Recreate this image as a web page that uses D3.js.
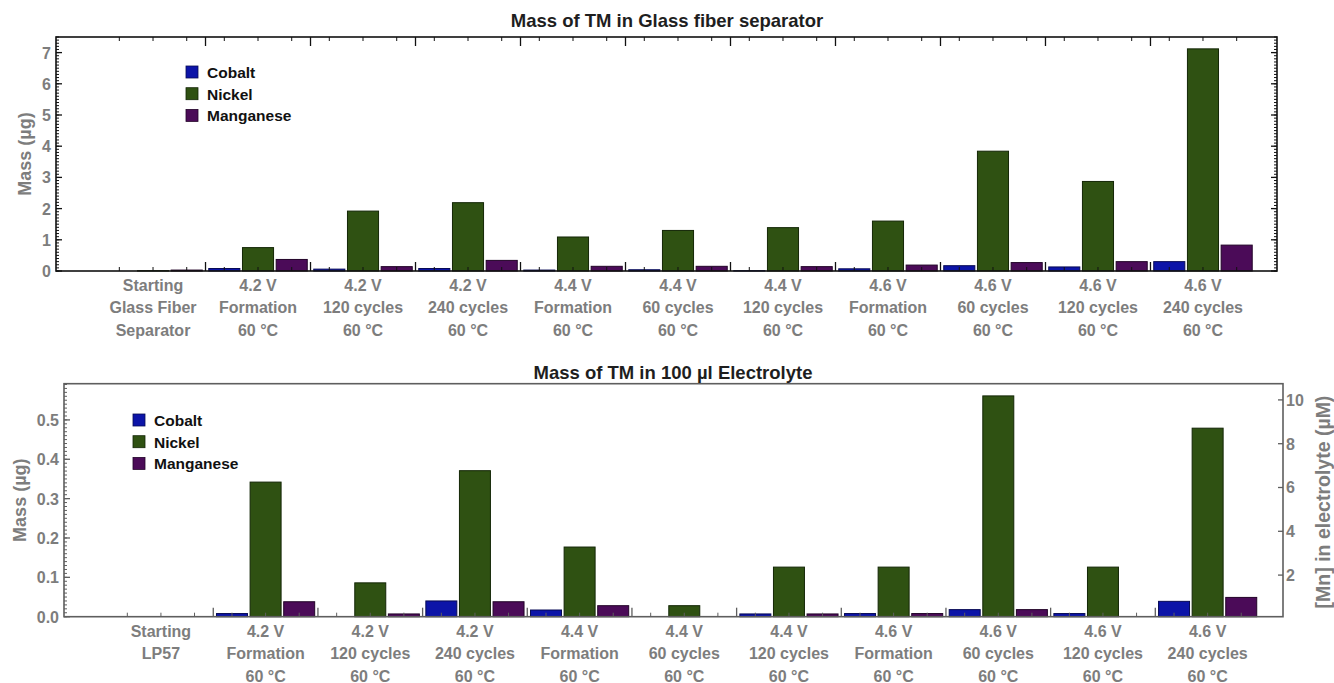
<!DOCTYPE html>
<html>
<head>
<meta charset="utf-8">
<script src="https://cdn.jsdelivr.net/npm/d3@7"></script>
<style>
  html, body { margin: 0; padding: 0; background: #fff; }
  svg { display: block; }
  text { font-family: "Liberation Sans", Arial, sans-serif; font-weight: bold; }
</style>
</head>
<body>
<svg id="chart" width="1334" height="683"></svg>
<script>
// Sample conditions (one group of three bars each)
const sepCategories = [
  ["Starting", "Glass Fiber", "Separator"],
  ["4.2 V", "Formation", "60 °C"],
  ["4.2 V", "120 cycles", "60 °C"],
  ["4.2 V", "240 cycles", "60 °C"],
  ["4.4 V", "Formation", "60 °C"],
  ["4.4 V", "60 cycles", "60 °C"],
  ["4.4 V", "120 cycles", "60 °C"],
  ["4.6 V", "Formation", "60 °C"],
  ["4.6 V", "60 cycles", "60 °C"],
  ["4.6 V", "120 cycles", "60 °C"],
  ["4.6 V", "240 cycles", "60 °C"]
];
const elyCategories = [
  ["Starting", "LP57"],
  ["4.2 V", "Formation", "60 °C"],
  ["4.2 V", "120 cycles", "60 °C"],
  ["4.2 V", "240 cycles", "60 °C"],
  ["4.4 V", "Formation", "60 °C"],
  ["4.4 V", "60 cycles", "60 °C"],
  ["4.4 V", "120 cycles", "60 °C"],
  ["4.6 V", "Formation", "60 °C"],
  ["4.6 V", "60 cycles", "60 °C"],
  ["4.6 V", "120 cycles", "60 °C"],
  ["4.6 V", "240 cycles", "60 °C"]
];

const seriesNames = ["Cobalt", "Nickel", "Manganese"];

// Mass of transition metals in the glass fiber separator (µg)
const sepCobalt    = [0.00, 0.08, 0.06, 0.08, 0.03, 0.04, 0.01, 0.07, 0.17, 0.13, 0.30];
const sepNickel    = [0.01, 0.75, 1.92, 2.19, 1.09, 1.30, 1.39, 1.60, 3.84, 2.87, 7.12];
const sepManganese = [0.03, 0.37, 0.14, 0.34, 0.15, 0.15, 0.14, 0.19, 0.27, 0.30, 0.83];

// Mass of transition metals in 100 µl electrolyte (µg)
const elyCobalt    = [0, 0.008, 0.000, 0.040, 0.017, 0.000, 0.007, 0.008, 0.018, 0.008, 0.039];
const elyNickel    = [0, 0.342, 0.086, 0.371, 0.177, 0.028, 0.126, 0.126, 0.561, 0.126, 0.479];
const elyManganese = [0, 0.038, 0.007, 0.038, 0.028, 0.000, 0.007, 0.008, 0.018, 0.000, 0.049];

// Axis tick labels
const sepTicks = [0, 1, 2, 3, 4, 5, 6, 7];
const elyTicks = [0, 0.1, 0.2, 0.3, 0.4, 0.5];
const mnTicks  = [2, 4, 6, 8, 10];

const fills   = ["#0c14a8", "#2f5112", "#4b0b58"];
const strokes = ["#070a55", "#132606", "#220428"];
const gray = "#7d7d7d";

const svg = d3.select("#chart");

function drawPanel(o) {
  const g = svg.append("g");
  const x = d3.scaleLinear().domain(o.xDomain).range([o.left, o.right]);
  const y = d3.scaleLinear().domain(o.yDomain).range([o.bottom, o.top]);
  const n = o.categories.length;
  const step = 0.321, barW = 0.296;
  const values = [o.cobalt, o.nickel, o.manganese];

  // bars
  values.forEach((vals, s) => {
    g.append("g").selectAll("rect").data(vals).join("rect")
      .attr("x", (d, i) => x(i + (s - 1) * step - barW / 2))
      .attr("width", x(barW) - x(0))
      .attr("y", d => y(d))
      .attr("height", d => y(0) - y(d))
      .attr("fill", fills[s])
      .attr("stroke", strokes[s])
      .attr("stroke-width", 1);
  });

  // bar-centre and group-boundary ticks on the horizontal edges
  const barCenters = [];
  for (let i = 0; i < n; i++) for (let s = -1; s <= 1; s++) barCenters.push(i + s * step);
  const bounds = d3.range(0, n - 1).map(i => i + 0.5);
  const edges = o.topTicks ? [[o.bottom, -1], [o.top, 1]] : [[o.bottom, -1]];
  edges.forEach(([yy, dir]) => {
    g.append("g").selectAll("line").data(barCenters).join("line")
      .attr("x1", d => x(d)).attr("x2", d => x(d))
      .attr("y1", yy).attr("y2", yy + dir * 4)
      .attr("stroke", o.frame).attr("stroke-width", 1);
    g.append("g").selectAll("line").data(bounds).join("line")
      .attr("x1", d => x(d)).attr("x2", d => x(d))
      .attr("y1", yy).attr("y2", yy + dir * 9)
      .attr("stroke", o.frame).attr("stroke-width", 1.3);
  });

  // left axis: labelled major ticks plus fine minor ticks
  const minor = d3.range(0, o.yDomain[1] + 1e-9, o.minorStep);
  g.append("g").selectAll("line").data(minor).join("line")
    .attr("x1", o.left).attr("x2", o.left + 3)
    .attr("y1", d => y(d)).attr("y2", d => y(d))
    .attr("stroke", o.frame).attr("stroke-width", 1);
  g.append("g").selectAll("line").data(o.ticks).join("line")
    .attr("x1", o.left).attr("x2", o.left + 6)
    .attr("y1", d => y(d)).attr("y2", d => y(d))
    .attr("stroke", o.frame).attr("stroke-width", 1.3);
  g.append("g").selectAll("text").data(o.ticks).join("text")
    .attr("x", o.left - 5).attr("y", d => y(d) + 6)
    .attr("text-anchor", "end").attr("font-size", 16).attr("fill", gray)
    .text(d3.format(o.tickFormat));

  if (o.rightMirror) {
    g.append("g").selectAll("line").data(minor).join("line")
      .attr("x1", o.right).attr("x2", o.right - 3)
      .attr("y1", d => y(d)).attr("y2", d => y(d))
      .attr("stroke", o.frame).attr("stroke-width", 1);
    g.append("g").selectAll("line").data(o.ticks).join("line")
      .attr("x1", o.right).attr("x2", o.right - 6)
      .attr("y1", d => y(d)).attr("y2", d => y(d))
      .attr("stroke", o.frame).attr("stroke-width", 1.3);
  }

  // frame
  g.append("rect")
    .attr("x", o.left).attr("y", o.top)
    .attr("width", o.right - o.left).attr("height", o.bottom - o.top)
    .attr("fill", "none").attr("stroke", o.frame).attr("stroke-width", 1.6);

  // category labels
  const cat = g.append("g").selectAll("text").data(o.categories).join("text")
    .attr("text-anchor", "middle").attr("font-size", 16).attr("fill", gray);
  cat.each(function (lines, i) {
    d3.select(this).selectAll("tspan").data(lines).join("tspan")
      .attr("x", x(i))
      .attr("y", (d, k) => o.catY + k * 22.5)
      .text(d => d);
  });

  // y axis title
  g.append("text")
    .attr("transform", `translate(${o.yTitleX},${(o.top + o.bottom) / 2}) rotate(-90)`)
    .attr("text-anchor", "middle").attr("font-size", 18).attr("fill", gray)
    .text("Mass (µg)");

  // chart title
  g.append("text")
    .attr("x", o.titleX).attr("y", o.titleY)
    .attr("text-anchor", "middle").attr("font-size", 18.5).attr("fill", "#1e1e1e")
    .text(o.title);

  // legend
  const lg = g.append("g").selectAll("g").data(seriesNames).join("g")
    .attr("transform", (d, i) => `translate(${o.legendX},${o.legendY + i * 21.7})`);
  lg.append("rect").attr("x", 0).attr("y", -6).attr("width", 12).attr("height", 12)
    .attr("fill", (d, i) => fills[i]).attr("stroke", (d, i) => strokes[i]).attr("stroke-width", 0.8);
  lg.append("text").attr("x", 21).attr("y", 6).attr("font-size", 15.5).attr("fill", "#111")
    .text(d => d);

  return { x, y, g };
}

// Upper panel: glass fiber separator
drawPanel({
  categories: sepCategories,
  cobalt: sepCobalt, nickel: sepNickel, manganese: sepManganese,
  xDomain: [-0.924, 10.705], yDomain: [0, 7.5],
  left: 56, right: 1277, top: 37, bottom: 271,
  ticks: sepTicks, minorStep: 0.1, tickFormat: "d",
  frame: "#111", topTicks: true, rightMirror: true,
  catY: 290.5, yTitleX: 31,
  title: "Mass of TM in Glass fiber separator", titleX: 667, titleY: 26.5,
  legendX: 186, legendY: 72
});

// Lower panel: 100 µl electrolyte, with Mn concentration on the right
const lower = drawPanel({
  categories: elyCategories,
  cobalt: elyCobalt, nickel: elyNickel, manganese: elyManganese,
  xDomain: [-0.926, 10.72], yDomain: [0, 0.592],
  left: 64, right: 1283, top: 383.7, bottom: 616.7,
  ticks: elyTicks, minorStep: 0.01, tickFormat: ".1f",
  frame: "#5e5e5e", topTicks: false, rightMirror: false,
  catY: 636.5, yTitleX: 26,
  title: "Mass of TM in 100 µl Electrolyte", titleX: 673, titleY: 379,
  legendX: 133, legendY: 420
});

const yMn = d3.scaleLinear().domain([0.1, 10.74]).range([616.7, 383.7]);
const rg = lower.g.append("g");
rg.selectAll("line").data(mnTicks).join("line")
  .attr("x1", 1283).attr("x2", 1278)
  .attr("y1", d => yMn(d)).attr("y2", d => yMn(d))
  .attr("stroke", "#5e5e5e").attr("stroke-width", 1.3);
rg.selectAll("text").data(mnTicks).join("text")
  .attr("x", 1286).attr("y", d => yMn(d) + 6)
  .attr("font-size", 16).attr("fill", gray)
  .text(d => d);
rg.append("text")
  .attr("transform", `translate(1330,502) rotate(-90)`)
  .attr("text-anchor", "middle").attr("font-size", 19.5).attr("fill", gray)
  .text("[Mn] in electrolyte (µM)");
</script>
</body>
</html>
